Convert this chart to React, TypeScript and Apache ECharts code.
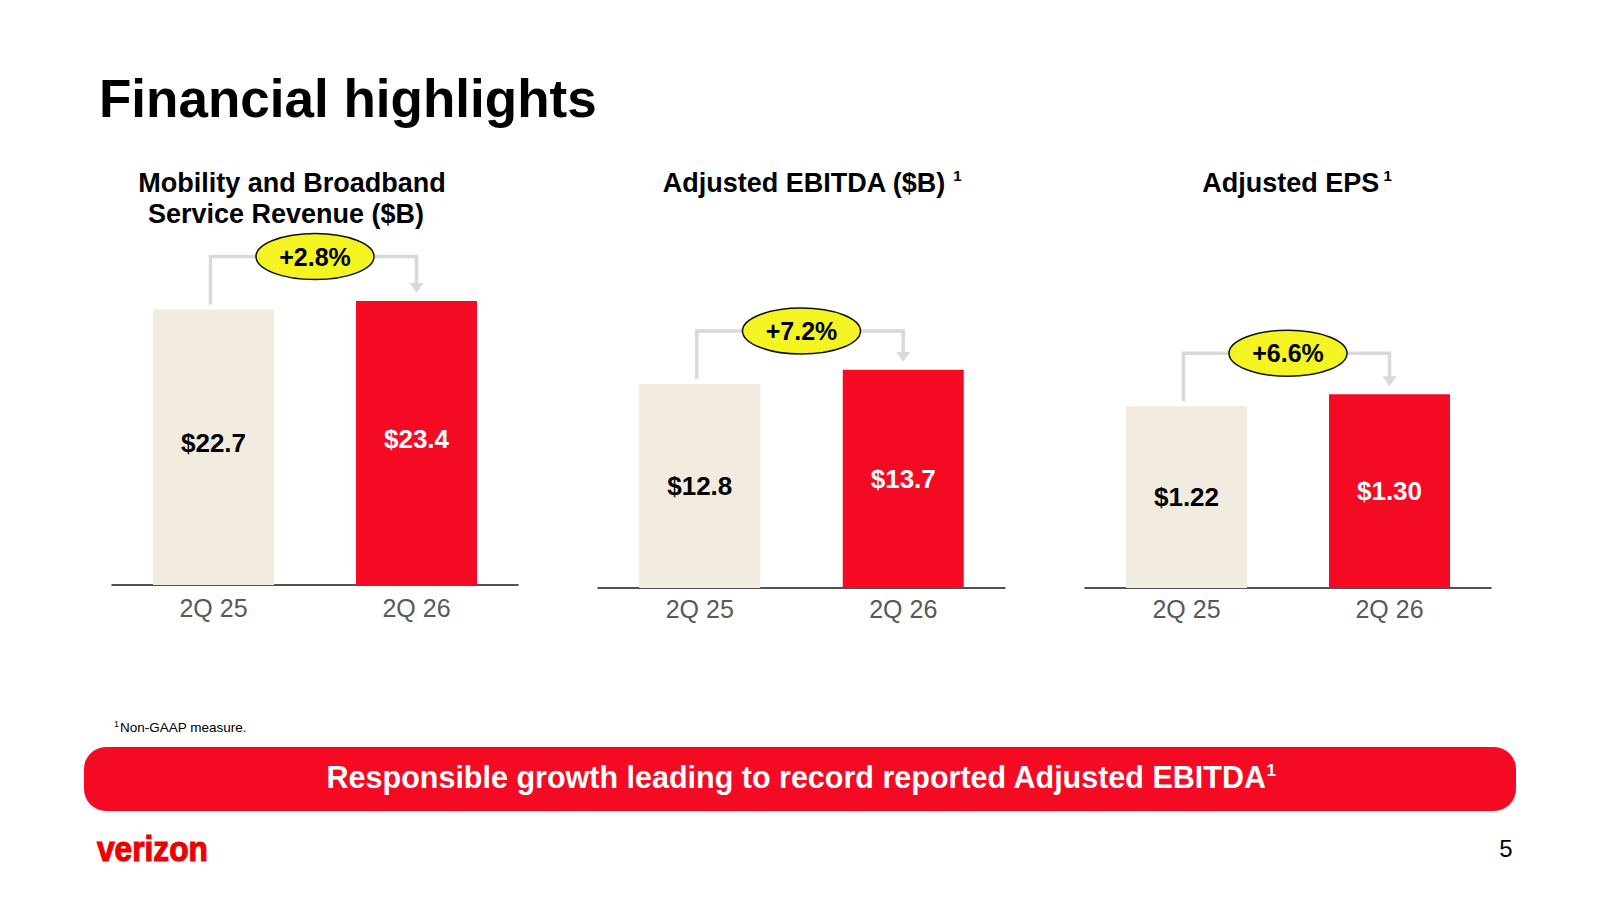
import React, { useEffect, useRef } from 'react';
import * as echarts from 'echarts';

// ---- data ----
const categories = ['2Q 25', '2Q 26'];
const revenueValues = [22.7, 23.4];
const ebitdaValues = [12.8, 13.7];
const epsValues = [1.22, 1.3];
const revenueLabels = ['$22.7', '$23.4'];
const ebitdaLabels = ['$12.8', '$13.7'];
const epsLabels = ['$1.22', '$1.30'];
const growthLabels = ['+2.8%', '+7.2%', '+6.6%'];
const axisMax = [30, 16, 2];

// ---- styles / layout ----
const FONT = '"Liberation Sans", Arial, Helvetica, sans-serif';
const BEIGE = '#F2EBDF';
const RED = '#F50A23';
const YELLOW = '#F4F423';
const CONNECTOR = '#D9D9D9';

const grids = [
  { left: 112, width: 406, top: 221, height: 364 },
  { left: 598, width: 407, top: 333, height: 255 },
  { left: 1085, width: 406, top: 290, height: 298 },
];
const labelMargins = [10, 8, 8];

export default function App() {
  const ref = useRef<HTMLDivElement>(null);

  useEffect(() => {
    const chart = echarts.init(ref.current!, null, { renderer: 'svg' });
    const panels = [
      { values: revenueValues, labels: revenueLabels },
      { values: ebitdaValues, labels: ebitdaLabels },
      { values: epsValues, labels: epsLabels },
    ];

    const option: any = {
      animation: false,
      backgroundColor: '#ffffff',
      textStyle: { fontFamily: FONT },
      grid: grids.map((g) => ({ ...g, containLabel: false, outerBoundsMode: 'none' })),
      xAxis: grids.map((_, i) => ({
        type: 'category',
        gridIndex: i,
        data: categories,
        axisTick: { show: false },
        axisLine: { show: true, lineStyle: { color: '#1a1a1a', width: 1.5 } },
        axisLabel: { color: '#595959', fontSize: 25, margin: labelMargins[i], fontFamily: FONT },
        splitLine: { show: false },
      })),
      yAxis: grids.map((_, i) => ({
        type: 'value',
        gridIndex: i,
        min: 0,
        max: axisMax[i],
        show: false,
        splitLine: { show: false },
      })),
      series: panels.map((p, i) => ({
        type: 'bar',
        xAxisIndex: i,
        yAxisIndex: i,
        barWidth: 121,
        data: p.values.map((v, j) => ({
          value: v,
          itemStyle: { color: j === 0 ? BEIGE : RED },
          label: { color: j === 0 ? '#000000' : '#ffffff' },
        })),
        label: {
          show: true,
          position: 'inside',
          offset: i === 0 ? [0, -4] : [0, 0],
          fontSize: 26,
          fontWeight: 'bold',
          fontFamily: FONT,
          formatter: (prm: any) => p.labels[prm.dataIndex],
        },
      })),
    };
    chart.setOption(option);

    const gfx: any[] = [];
    // page title
    gfx.push({
      type: 'text',
      x: 99,
      y: 98,
      style: { text: 'Financial highlights', fill: '#000', font: `bold 53px ${FONT}`, align: 'left', verticalAlign: 'middle' },
    });
    // panel headers
    gfx.push({
      type: 'text',
      x: 292,
      y: 183,
      style: { text: 'Mobility and Broadband', fill: '#000', font: `bold 27px ${FONT}`, align: 'center', verticalAlign: 'middle' },
    });
    gfx.push({
      type: 'text',
      x: 286,
      y: 214,
      style: { text: 'Service Revenue ($B)', fill: '#000', font: `bold 27px ${FONT}`, align: 'center', verticalAlign: 'middle' },
    });
    const supRich = {
      a: { fontSize: 27, fontWeight: 'bold', fontFamily: FONT, fill: '#000' },
      s: { fontSize: 15, fontWeight: 'bold', fontFamily: FONT, fill: '#000', padding: [0, 0, 16, 0] },
    };
    gfx.push({
      type: 'text',
      x: 812,
      y: 183,
      style: { text: '{a|Adjusted EBITDA ($B) }{s|1}', rich: supRich, align: 'center', verticalAlign: 'middle' },
    });
    gfx.push({
      type: 'text',
      x: 1297,
      y: 183,
      style: { text: '{a|Adjusted EPS}{s| 1}', rich: supRich, align: 'center', verticalAlign: 'middle' },
    });

    // growth callouts, positioned from the axes
    panels.forEach((p, i) => {
      const [x1, t1] = chart.convertToPixel({ gridIndex: i }, [0, p.values[0]]) as number[];
      const [x2, t2] = chart.convertToPixel({ gridIndex: i }, [1, p.values[1]]) as number[];
      const lx = x1 - 3;
      const yc = t1 - 53;
      const cx = (x1 + x2) / 2;
      const rx = 59;
      const ry = 23;
      gfx.push({
        type: 'polyline',
        shape: { points: [[lx, t1 - 5], [lx, yc], [cx - rx, yc]] },
        style: { stroke: CONNECTOR, lineWidth: 3.5, fill: null },
      });
      gfx.push({
        type: 'polyline',
        shape: { points: [[cx + rx, yc], [x2, yc], [x2, t2 - 16]] },
        style: { stroke: CONNECTOR, lineWidth: 3.5, fill: null },
      });
      gfx.push({
        type: 'polygon',
        shape: { points: [[x2 - 7, t2 - 18], [x2 + 7, t2 - 18], [x2, t2 - 8]] },
        style: { fill: CONNECTOR },
      });
      gfx.push({
        type: 'ellipse',
        shape: { cx, cy: yc, rx, ry },
        style: { fill: YELLOW, stroke: '#111', lineWidth: 1.5 },
        z: 10,
      });
      gfx.push({
        type: 'text',
        x: cx,
        y: yc,
        z: 11,
        style: { text: growthLabels[i], fill: '#000', font: `bold 25px ${FONT}`, align: 'center', verticalAlign: 'middle' },
      });
    });

    // footnote
    gfx.push({
      type: 'text',
      x: 114,
      y: 727,
      style: {
        text: '{s|1}{t|Non-GAAP measure.}',
        rich: {
          s: { fontSize: 9, fontFamily: FONT, fill: '#000', padding: [0, 1, 6, 0] },
          t: { fontSize: 13.5, fontFamily: FONT, fill: '#000' },
        },
        align: 'left',
        verticalAlign: 'middle',
      },
    });
    // banner
    gfx.push({
      type: 'rect',
      shape: { x: 84, y: 747, width: 1432, height: 64, r: 22 },
      style: { fill: RED },
    });
    gfx.push({
      type: 'text',
      x: 801,
      y: 777,
      z: 5,
      style: {
        text: '{a|Responsible growth leading to record reported Adjusted EBITDA}{s|1}',
        rich: {
          a: { fontSize: 30.5, fontWeight: 'bold', fontFamily: FONT, fill: '#ffffff' },
          s: { fontSize: 17, fontWeight: 'bold', fontFamily: FONT, fill: '#ffffff', padding: [0, 0, 14, 0] },
        },
        align: 'center',
        verticalAlign: 'middle',
      },
    });
    // logo
    gfx.push({
      type: 'text',
      x: 97,
      y: 848,
      scaleX: 0.88,
      style: {
        text: 'verizon',
        fill: '#EE0000',
        stroke: '#EE0000',
        lineWidth: 1.2,
        font: `bold 36px ${FONT}`,
        align: 'left',
        verticalAlign: 'middle',
      },
    });
    // page number
    gfx.push({
      type: 'text',
      x: 1506,
      y: 848,
      style: { text: '5', fill: '#000', font: `24px ${FONT}`, align: 'center', verticalAlign: 'middle' },
    });

    chart.setOption({ graphic: gfx });
    return () => chart.dispose();
  }, []);

  return (
    <div
      ref={ref}
      style={{ position: 'absolute', left: 0, top: 0, width: 1600, height: 901, background: '#fff' }}
    />
  );
}
